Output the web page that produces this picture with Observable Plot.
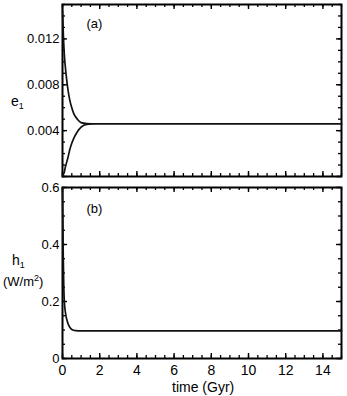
<!DOCTYPE html>
<html>
<head>
<meta charset="utf-8">
<script src="https://cdn.jsdelivr.net/npm/d3@7"></script>
<script src="https://cdn.jsdelivr.net/npm/@observablehq/plot@0.6"></script>
<style>
  html, body { margin: 0; padding: 0; background: #fff; }
  #wrap { position: relative; width: 347px; height: 396px; font-family: "Liberation Sans", Arial, sans-serif; background: #fff; }
  #wrap svg { display: block; position: absolute; left: 0; font-family: "Liberation Sans", Arial, sans-serif; }
  .lab { position: absolute; color: #000; line-height: 1; white-space: nowrap; }
</style>
</head>
<body>
<div id="wrap"></div>
<script>
// ---- data ----
const time = [0, 0.05, 0.1, 0.15, 0.2, 0.3, 0.4, 0.5, 0.6, 0.8, 1.0, 1.3, 1.8, 15];
const e1Upper = [0.0145, 0.0122, 0.0106, 0.0096, 0.0088, 0.0075, 0.0066, 0.0060, 0.0055, 0.0050, 0.0047, 0.00462, 0.0046, 0.0046];
const e1Lower = [0.0, 0.0002, 0.0004, 0.0008, 0.0011, 0.0017, 0.0024, 0.0029, 0.0033, 0.0039, 0.0043, 0.00455, 0.0046, 0.0046];
const hTime = [0, 0.02, 0.04, 0.07, 0.1, 0.15, 0.2, 0.3, 0.4, 0.5, 0.7, 1.0, 15];
const h1 = [0.6, 0.48, 0.36, 0.25, 0.2, 0.165, 0.145, 0.122, 0.109, 0.102, 0.098, 0.097, 0.097];

const xTicks = [0, 2, 4, 6, 8, 10, 12, 14];
const eTicks = [0.004, 0.008, 0.012];
const hTicks = [0, 0.2, 0.4, 0.6];
const xDomain = [0, 15];
const eDomain = [0, 0.015];
const hDomain = [0, 0.6];

const xMinor = d3.range(31).map(i => i * 0.5);
const eMinor = d3.range(16).map(i => i * 0.001);
const hMinor = d3.range(13).map(i => i * 0.05);
const eMajor = [0, 0.004, 0.008, 0.012];

const upperData = time.map((t, i) => ({t, v: e1Upper[i]}));
const lowerData = time.map((t, i) => ({t, v: e1Lower[i]}));
const hData = hTime.map((t, i) => ({t, v: h1[i]}));

const fmtE = d => d3.format(".3f")(d);
const fmtH = d => d === 0 ? "0" : d3.format(".1f")(d);

const W = 347, ML = 62, MR = 6;
const innerW = W - ML - MR;

// inward ticks on all four sides, drawn as short tick marks inset from the frame edges
function edgeTicks(yMajor, yMinor, innerH) {
  return [
    Plot.tickX(xMinor, {x: d => d, insetTop: innerH - 3, stroke: "#000", strokeWidth: 1.3}),
    Plot.tickX(xMinor, {x: d => d, insetBottom: innerH - 3, stroke: "#000", strokeWidth: 1.3}),
    Plot.tickX(xTicks, {x: d => d, insetTop: innerH - 5, stroke: "#000", strokeWidth: 1.4}),
    Plot.tickX(xTicks, {x: d => d, insetBottom: innerH - 5, stroke: "#000", strokeWidth: 1.4}),
    Plot.tickY(yMinor, {y: d => d, insetRight: innerW - 3, stroke: "#000", strokeWidth: 1.3}),
    Plot.tickY(yMinor, {y: d => d, insetLeft: innerW - 3, stroke: "#000", strokeWidth: 1.3}),
    Plot.tickY(yMajor, {y: d => d, insetRight: innerW - 5, stroke: "#000", strokeWidth: 1.4}),
    Plot.tickY(yMajor, {y: d => d, insetLeft: innerW - 5, stroke: "#000", strokeWidth: 1.4})
  ];
}

const topPlot = Plot.plot({
  width: W, height: 180,
  marginLeft: ML, marginRight: MR, marginTop: 4, marginBottom: 4,
  x: {domain: xDomain, axis: null},
  y: {domain: eDomain, axis: null},
  marks: [
    ...edgeTicks(eMajor, eMinor, 172),
    Plot.frame({stroke: "#000", strokeWidth: 2}),
    Plot.axisY(eTicks, {anchor: "left", tickSize: 0, tickPadding: 3, tickFormat: fmtE, label: null, fontSize: 13, fill: "#000"}),
    Plot.line(upperData, {x: "t", y: "v", stroke: "#111", strokeWidth: 1.7, curve: "monotone-x"}),
    Plot.line(lowerData, {x: "t", y: "v", stroke: "#111", strokeWidth: 1.7, curve: "monotone-x"}),
    Plot.text(["(a)"], {frameAnchor: "top-left", dx: 24, dy: 14, fontSize: 13, fill: "#000"})
  ]
});

const bottomPlot = Plot.plot({
  width: W, height: 216,
  marginLeft: ML, marginRight: MR, marginTop: 7, marginBottom: 38,
  x: {domain: xDomain, axis: null},
  y: {domain: hDomain, axis: null},
  marks: [
    ...edgeTicks(hTicks, hMinor, 171),
    Plot.frame({stroke: "#000", strokeWidth: 2}),
    Plot.axisY(hTicks, {anchor: "left", tickSize: 0, tickPadding: 3, tickFormat: fmtH, label: null, fontSize: 13, fill: "#000"}),
    Plot.axisX(xTicks, {anchor: "bottom", tickSize: 0, tickPadding: 7, tickFormat: d => String(d), fontSize: 14, fill: "#000", label: null}),
    Plot.line(hData, {x: "t", y: "v", stroke: "#111", strokeWidth: 1.7, curve: "monotone-x"}),
    Plot.text(["(b)"], {frameAnchor: "top-left", dx: 24, dy: 16, fontSize: 13, fill: "#000"})
  ]
});

const wrap = document.getElementById("wrap");
topPlot.style.top = "0px";
bottomPlot.style.top = "180px";
wrap.appendChild(topPlot);
wrap.appendChild(bottomPlot);

function addLabel(html, left, top, size) {
  const d = document.createElement("div");
  d.className = "lab";
  d.style.left = left + "px"; d.style.top = top + "px"; d.style.fontSize = size + "px";
  d.innerHTML = html;
  wrap.appendChild(d);
  return d;
}
addLabel("e<sub style='font-size:9px;vertical-align:-3px'>1</sub>", 11, 94, 14);
addLabel("h<sub style='font-size:9px;vertical-align:-3px'>1</sub>", 12, 253, 14);
addLabel("(W/m<sup style='font-size:9px;vertical-align:5px'>2</sup>)", 3, 274, 13);
addLabel("time (Gyr)", 172, 380, 14);
</script>
</body>
</html>
